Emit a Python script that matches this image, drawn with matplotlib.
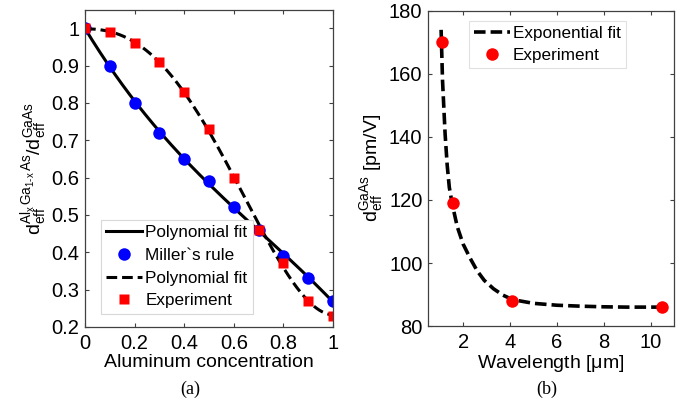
import numpy as np
import matplotlib
matplotlib.use('Agg')
import matplotlib.pyplot as plt

plt.rcParams['font.family'] = ['Liberation Sans', 'DejaVu Sans']
plt.rcParams['mathtext.fontset'] = 'custom'
plt.rcParams['mathtext.rm'] = 'Liberation Sans'
plt.rcParams['mathtext.it'] = 'Liberation Sans'
plt.rcParams['mathtext.bf'] = 'Liberation Sans:bold'

# (a) ratio vs aluminum concentration
al_x = [0.0, 0.1, 0.2, 0.3, 0.4, 0.5, 0.6, 0.7, 0.8, 0.9, 1.0]
miller = [1.0, 0.90, 0.80, 0.72, 0.65, 0.59, 0.52, 0.46, 0.39, 0.33, 0.27]
experiment_a = [1.0, 0.99, 0.96, 0.91, 0.83, 0.73, 0.60, 0.46, 0.37, 0.27, 0.23]

# (b) d_eff of GaAs vs wavelength
wl_exp = [1.08, 1.55, 4.1, 10.5]
deff_exp = [170, 119, 88, 86]
wl_fit = [1.06, 1.12, 1.23, 1.32, 1.41, 1.54, 1.75, 2.0, 2.3, 2.6, 2.9, 3.3, 3.7,
          4.1, 5.0, 6.0, 7.0, 8.0, 9.0, 10.0, 10.5]
deff_fit = [174, 158, 141, 131, 124, 118.5, 111.5, 106, 101.5, 97.5, 94.5, 91.8, 89.8,
            88.4, 87.2, 86.6, 86.3, 86.1, 86.0, 86.0, 86.0]

edge = '#404040'

fig = plt.figure(figsize=(6.94, 4.05), dpi=100)
ax1 = fig.add_axes([0.1225, 0.193, 0.3575, 0.783])
ax2 = fig.add_axes([0.6167, 0.195, 0.3545, 0.778])

# polynomial fits through the points
xs = np.linspace(0, 1, 200)
p_miller = np.polyfit(al_x, miller, 3)
p_exp = np.polyfit(al_x, experiment_a, 4)

ax1.plot(xs, np.polyval(p_miller, xs), 'k-', lw=2.2, label='Polynomial fit')
ax1.plot(al_x, miller, 'o', color='#0000ff', ms=9, mec='none', label='Miller`s rule')
ax1.plot(xs, np.polyval(p_exp, xs), 'k--', lw=2.2, dashes=(3.5, 1.6), label='Polynomial fit')
ax1.plot(al_x, experiment_a, 's', color='#ff0000', ms=7, mec='none', label='Experiment')
ax1.set_xlim(0, 1)
ax1.set_ylim(0.2, 1.05)
ax1.set_xticks([0, 0.2, 0.4, 0.6, 0.8, 1])
ax1.set_xticklabels(['0', '0.2', '0.4', '0.6', '0.8', '1'])
ax1.set_yticks([0.2, 0.3, 0.4, 0.5, 0.6, 0.7, 0.8, 0.9, 1.0])
ax1.set_yticklabels(['0.2', '0.3', '0.4', '0.5', '0.6', '0.7', '0.8', '0.9', '1'])
ax1.set_xlabel('Aluminum concentration', fontsize=14, labelpad=1)
ax1.set_ylabel(r'$\mathregular{d_{eff}^{Al_x\,Ga_{1\text{-}x}\,As}/d_{eff}^{GaAs}}$',
               fontsize=14, labelpad=1)
leg1 = ax1.legend(loc='lower left', bbox_to_anchor=(0.03, 0.015), fontsize=12.3,
                  handlelength=2.1, handletextpad=0.2, borderpad=0.3,
                  labelspacing=0.45, fancybox=False, framealpha=1)
leg1.get_frame().set_edgecolor('#d8d8d8')
leg1.get_frame().set_linewidth(0.8)

ax2.plot(wl_fit, deff_fit, 'k--', lw=2.6, dashes=(3.2, 1.4), label='Exponential fit')
ax2.plot(wl_exp, deff_exp, 'o', color='#ff0000', ms=9, mec='none', label='Experiment')
ax2.set_xlim(0.5, 11)
ax2.set_ylim(80, 180)
ax2.set_xticks([2, 4, 6, 8, 10])
ax2.set_yticks([80, 100, 120, 140, 160, 180])
ax2.set_xlabel(r'Wavelength [$\mathregular{\mu}$m]', fontsize=14, labelpad=1)
ax2.set_ylabel(r'$\mathregular{d_{eff}^{GaAs}}$ [pm/V]', fontsize=14, labelpad=3)
leg2 = ax2.legend(loc='upper left', bbox_to_anchor=(0.13, 0.995), fontsize=12.3,
                  handlelength=2.1, handletextpad=0.2, borderpad=0.3,
                  labelspacing=0.4, fancybox=False, framealpha=1)
leg2.get_frame().set_edgecolor('#e0e0e0')
leg2.get_frame().set_linewidth(0.8)

# panel letters under the axis labels
fig.text(190 / 694, 1 - 389 / 405, '(a)', ha='center', va='center',
         fontsize=13, family='Liberation Serif')
fig.text(547 / 694, 1 - 389 / 405, '(b)', ha='center', va='center',
         fontsize=13, family='Liberation Serif')

for ax in (ax1, ax2):
    ax.tick_params(direction='in', top=True, right=True, labelsize=14.5,
                   length=3, width=0.8, color=edge, pad=4)
    ax.tick_params(axis='x', pad=5)
    for sp in ax.spines.values():
        sp.set_color(edge)
        sp.set_linewidth(0.9)

fig.savefig('out.png', dpi=100)
